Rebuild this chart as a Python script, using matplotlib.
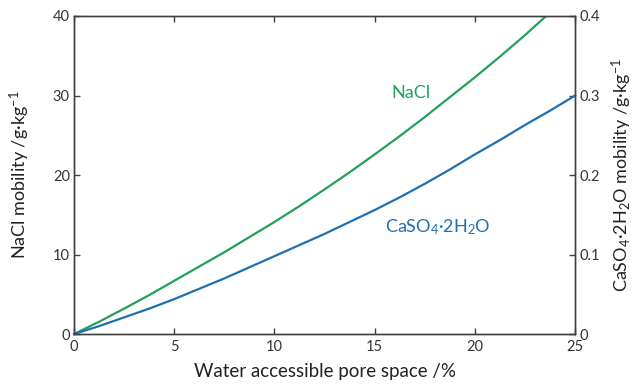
import matplotlib.pyplot as plt

plt.rcParams['font.family'] = ['Lato', 'DejaVu Sans']
plt.rcParams['mathtext.fontset'] = 'custom'
plt.rcParams['mathtext.rm'] = 'Lato'
plt.rcParams['mathtext.it'] = 'Lato:italic'

# pore space (%) and mobility of both salts
pore_space = [0, 1.25, 2.5, 3.75, 5, 6.25, 7.5, 8.75, 10, 11.25, 12.5,
              13.75, 15, 16.25, 17.5, 18.75, 20, 21.25, 22.5, 23.55]
nacl = [0, 1.55, 3.2, 4.9, 6.7, 8.5, 10.3, 12.2, 14.1, 16.1, 18.2,
        20.35, 22.6, 24.9, 27.3, 29.8, 32.3, 34.9, 37.6, 40.0]

pore_space_gyp = [0, 1.25, 2.5, 3.75, 5, 6.25, 7.5, 8.75, 10, 11.25, 12.5,
                  13.75, 15, 16.25, 17.5, 18.75, 20, 21.25, 22.5, 23.75, 25]
gypsum = [0, 0.010, 0.021, 0.032, 0.044, 0.057, 0.070, 0.084, 0.098, 0.112,
          0.126, 0.141, 0.156, 0.172, 0.189, 0.207, 0.226, 0.244, 0.263,
          0.281, 0.300]

green = '#23a05a'
blue = '#1f6fb0'
axis_grey = '#404040'

fig = plt.figure(figsize=(6.36, 3.88), dpi=100)
ax = fig.add_axes([0.1164, 0.139, 0.788, 0.8198])
ax2 = ax.twinx()

ax.plot(pore_space, nacl, color=green, lw=1.6)
ax2.plot(pore_space_gyp, gypsum, color=blue, lw=1.6, clip_on=False)

ax.set_xlim(0, 25)
ax.set_ylim(0, 40)
ax2.set_ylim(0, 0.4)

ax.set_xticks([0, 5, 10, 15, 20, 25])
ax.set_yticks([0, 10, 20, 30, 40])
ax2.set_yticks([0, 0.1, 0.2, 0.3, 0.4])
ax2.set_yticklabels(['0', '0.1', '0.2', '0.3', '0.4'])

for a in (ax, ax2):
    for s in a.spines.values():
        s.set_color(axis_grey)
        s.set_linewidth(1.0)
    a.tick_params(direction='in', length=4, width=1.0, color=axis_grey,
                  labelsize=10.5, labelcolor='#333333', pad=3)
ax.tick_params(axis='x', top=True, pad=4)
ax.tick_params(axis='y', right=False)

ax.set_xlabel('Water accessible pore space /%', fontsize=13.5, color='#222222', labelpad=7)
ax.set_ylabel('NaCl mobility /g·kg$^{-1}$', fontsize=13, color='#222222')
ax2.set_ylabel('CaSO$_4$·2H$_2$O mobility /g·kg$^{-1}$', fontsize=13, color='#222222')

# pin the two side labels by their centres
ax.yaxis.set_label_coords(-0.109, 0.5)
ax.yaxis.label.set_verticalalignment('center')
ax2.yaxis.set_label_coords(1.093, 0.5)
ax2.yaxis.label.set_verticalalignment('center')

ax.text(16.8, 30.3, 'NaCl', color=green, fontsize=13, ha='center', va='center')
ax.text(18.15, 13.5, 'CaSO$_4$·2H$_2$O', color=blue, fontsize=13,
        ha='center', va='center')

fig.savefig('out.png', dpi=100)
